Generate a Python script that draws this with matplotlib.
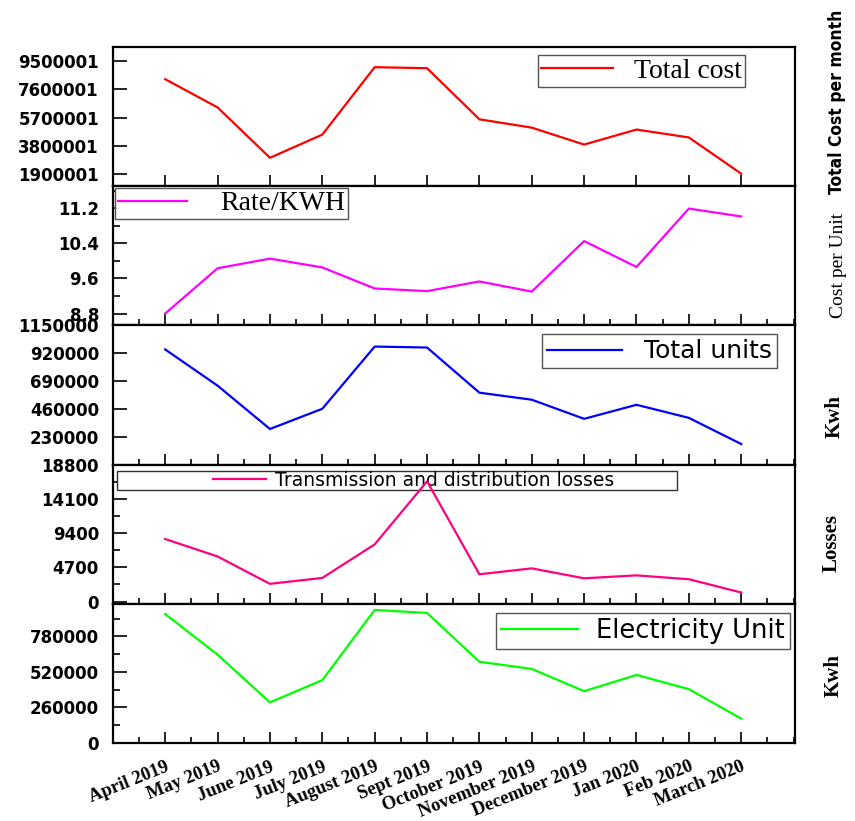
import matplotlib
matplotlib.use("Agg")
import matplotlib.pyplot as plt
from matplotlib.patches import Rectangle
from matplotlib.ticker import MultipleLocator, FixedLocator

months = ["April 2019", "May 2019", "June 2019", "July 2019", "August 2019",
          "Sept 2019", "October 2019", "November 2019", "December 2019",
          "Jan 2020", "Feb 2020", "March 2020"]

total_cost = [8280000, 6380000, 2990000, 4550000, 9090000, 9020000,
              5580000, 5020000, 3880000, 4890000, 4360000, 1920000]
rate_kwh = [8.80, 9.83, 10.05, 9.85, 9.37, 9.31, 9.53, 9.30, 10.45, 9.86, 11.19, 11.01]
total_units = [951000, 652000, 294000, 461000, 975000, 967000,
               594000, 536000, 378000, 494000, 386000, 170000]
td_losses = [8590, 6190, 2440, 3250, 7850, 16500, 3750, 4560, 3200, 3600, 3070, 1250]
elec_unit = [943000, 646000, 297000, 460000, 973000, 951000,
             594000, 542000, 379000, 498000, 394000, 178000]

x = list(range(1, len(months) + 1))

fig = plt.figure(figsize=(8.55, 8.21), dpi=100)
gs = fig.add_gridspec(5, 1, left=0.132, right=0.930, top=0.9428, bottom=0.095, hspace=0)
axes = [fig.add_subplot(gs[i]) for i in range(5)]

# data, colour, label, ylim, major y ticks, minor y step, x minors
panels = [
    (total_cost, "#ff0000", "Total cost", (1080000, 10450000),
     [1900001, 3800001, 5700001, 7600001, 9500001], None, False),
    (rate_kwh, "#ff00ff", "Rate/KWH", (8.53, 11.7),
     [8.8, 9.6, 10.4, 11.2], 0.4, True),
    (total_units, "#0000ff", "Total units", (0, 1150000),
     [230000, 460000, 690000, 920000, 1150000], None, True),
    (td_losses, "#ff0080", "Transmission and distribution losses", (-300, 18800),
     [0, 4700, 9400, 14100, 18800], 2350, True),
    (elec_unit, "#00ff00", "Electricity Unit", (0, 1018000),
     [0, 260000, 520000, 780000], 130000, True),
]

lines = []
for ax, (vals, col, lab, ylim, yt, ymin_step, xminor) in zip(axes, panels):
    ln, = ax.plot(x, vals, color=col, lw=1.6, label=lab)
    lines.append(ln)
    ax.set_xlim(0, 13.03)
    ax.set_ylim(*ylim)
    ax.yaxis.set_major_locator(FixedLocator(yt))
    if ymin_step:
        ax.yaxis.set_minor_locator(MultipleLocator(ymin_step))
    ax.set_yticklabels(["%g" % v if v < 100 else "%d" % v for v in yt],
                       fontfamily="DejaVu Sans", fontweight="bold", fontsize=12)
    ax.xaxis.set_major_locator(FixedLocator(x))
    if xminor:
        ax.xaxis.set_minor_locator(MultipleLocator(0.5))
    ax.tick_params(axis="both", which="both", direction="in", width=1.2)
    ax.tick_params(axis="x", which="major", length=8)
    ax.tick_params(axis="y", which="major", length=10, pad=10)
    ax.tick_params(axis="x", which="minor", length=4)
    ax.tick_params(axis="y", which="minor", length=5)
    for s in ax.spines.values():
        s.set_linewidth(1.6)
    if ax is not axes[-1]:
        ax.tick_params(axis="x", labelbottom=False)

# legends
leg_kw = dict(fancybox=False, framealpha=1, edgecolor="#555555", borderaxespad=0)
l1 = axes[0].legend(loc="upper right", bbox_to_anchor=(0.927, 0.942),
                    prop={"family": "Liberation Serif", "size": 20},
                    borderpad=0.12, handlelength=2.6, handletextpad=0.75, **leg_kw)
l2 = axes[1].legend(loc="upper left", bbox_to_anchor=(0.003, 0.986),
                    prop={"family": "Liberation Serif", "size": 20},
                    borderpad=0.1, handlelength=2.5, handletextpad=1.2, **leg_kw)
l3 = axes[2].legend(loc="upper right", bbox_to_anchor=(0.974, 0.936),
                    prop={"family": "DejaVu Sans", "size": 18},
                    borderpad=0.2, handlelength=3.0, handletextpad=0.9, **leg_kw)
l5 = axes[4].legend(loc="upper right", bbox_to_anchor=(0.993, 0.935),
                    prop={"family": "DejaVu Sans", "size": 18.5},
                    borderpad=0.2, handlelength=3.0, handletextpad=0.7, **leg_kw)
for lg in (l1, l2, l3, l5):
    lg.get_frame().set_linewidth(1.0)

# wide box legend for the losses panel
axes[3].add_patch(Rectangle((0.006, 0.814), 0.821, 0.143, transform=axes[3].transAxes,
                            facecolor="white", edgecolor="#303030", lw=1.0, zorder=4))
axes[3].legend(loc="center", bbox_to_anchor=(0.441, 0.886), frameon=False,
               prop={"family": "DejaVu Sans", "size": 13.5}, borderpad=0,
               borderaxespad=0, handlelength=2.8, handletextpad=0.5)
lines[3].set_zorder(6)

# x tick labels on the bottom panel
axes[-1].set_xticks(x)
axes[-1].set_xticklabels(months, rotation=22, ha="right", va="top",
                         rotation_mode="anchor", fontfamily="Liberation Serif",
                         fontweight="bold", fontsize=13.5)
axes[-1].tick_params(axis="x", which="major", pad=11)

# right-hand titles
fig.text(0.979, 0.876, "Total Cost per month", rotation=90, ha="center", va="center",
         family="DejaVu Sans", fontstretch="condensed", fontweight="bold", fontsize=12.5)
fig.text(0.981, 0.677, "Cost per Unit", rotation=90, ha="center", va="center",
         family="Liberation Serif", fontsize=14)
fig.text(0.976, 0.493, "Kwh", rotation=90, ha="center", va="center",
         family="Liberation Serif", fontweight="bold", fontsize=15)
fig.text(0.973, 0.339, "Losses", rotation=90, ha="center", va="center",
         family="Liberation Serif", fontweight="bold", fontsize=15)
fig.text(0.975, 0.177, "Kwh", rotation=90, ha="center", va="center",
         family="Liberation Serif", fontweight="bold", fontsize=15)

fig.savefig("out.png", dpi=100)
